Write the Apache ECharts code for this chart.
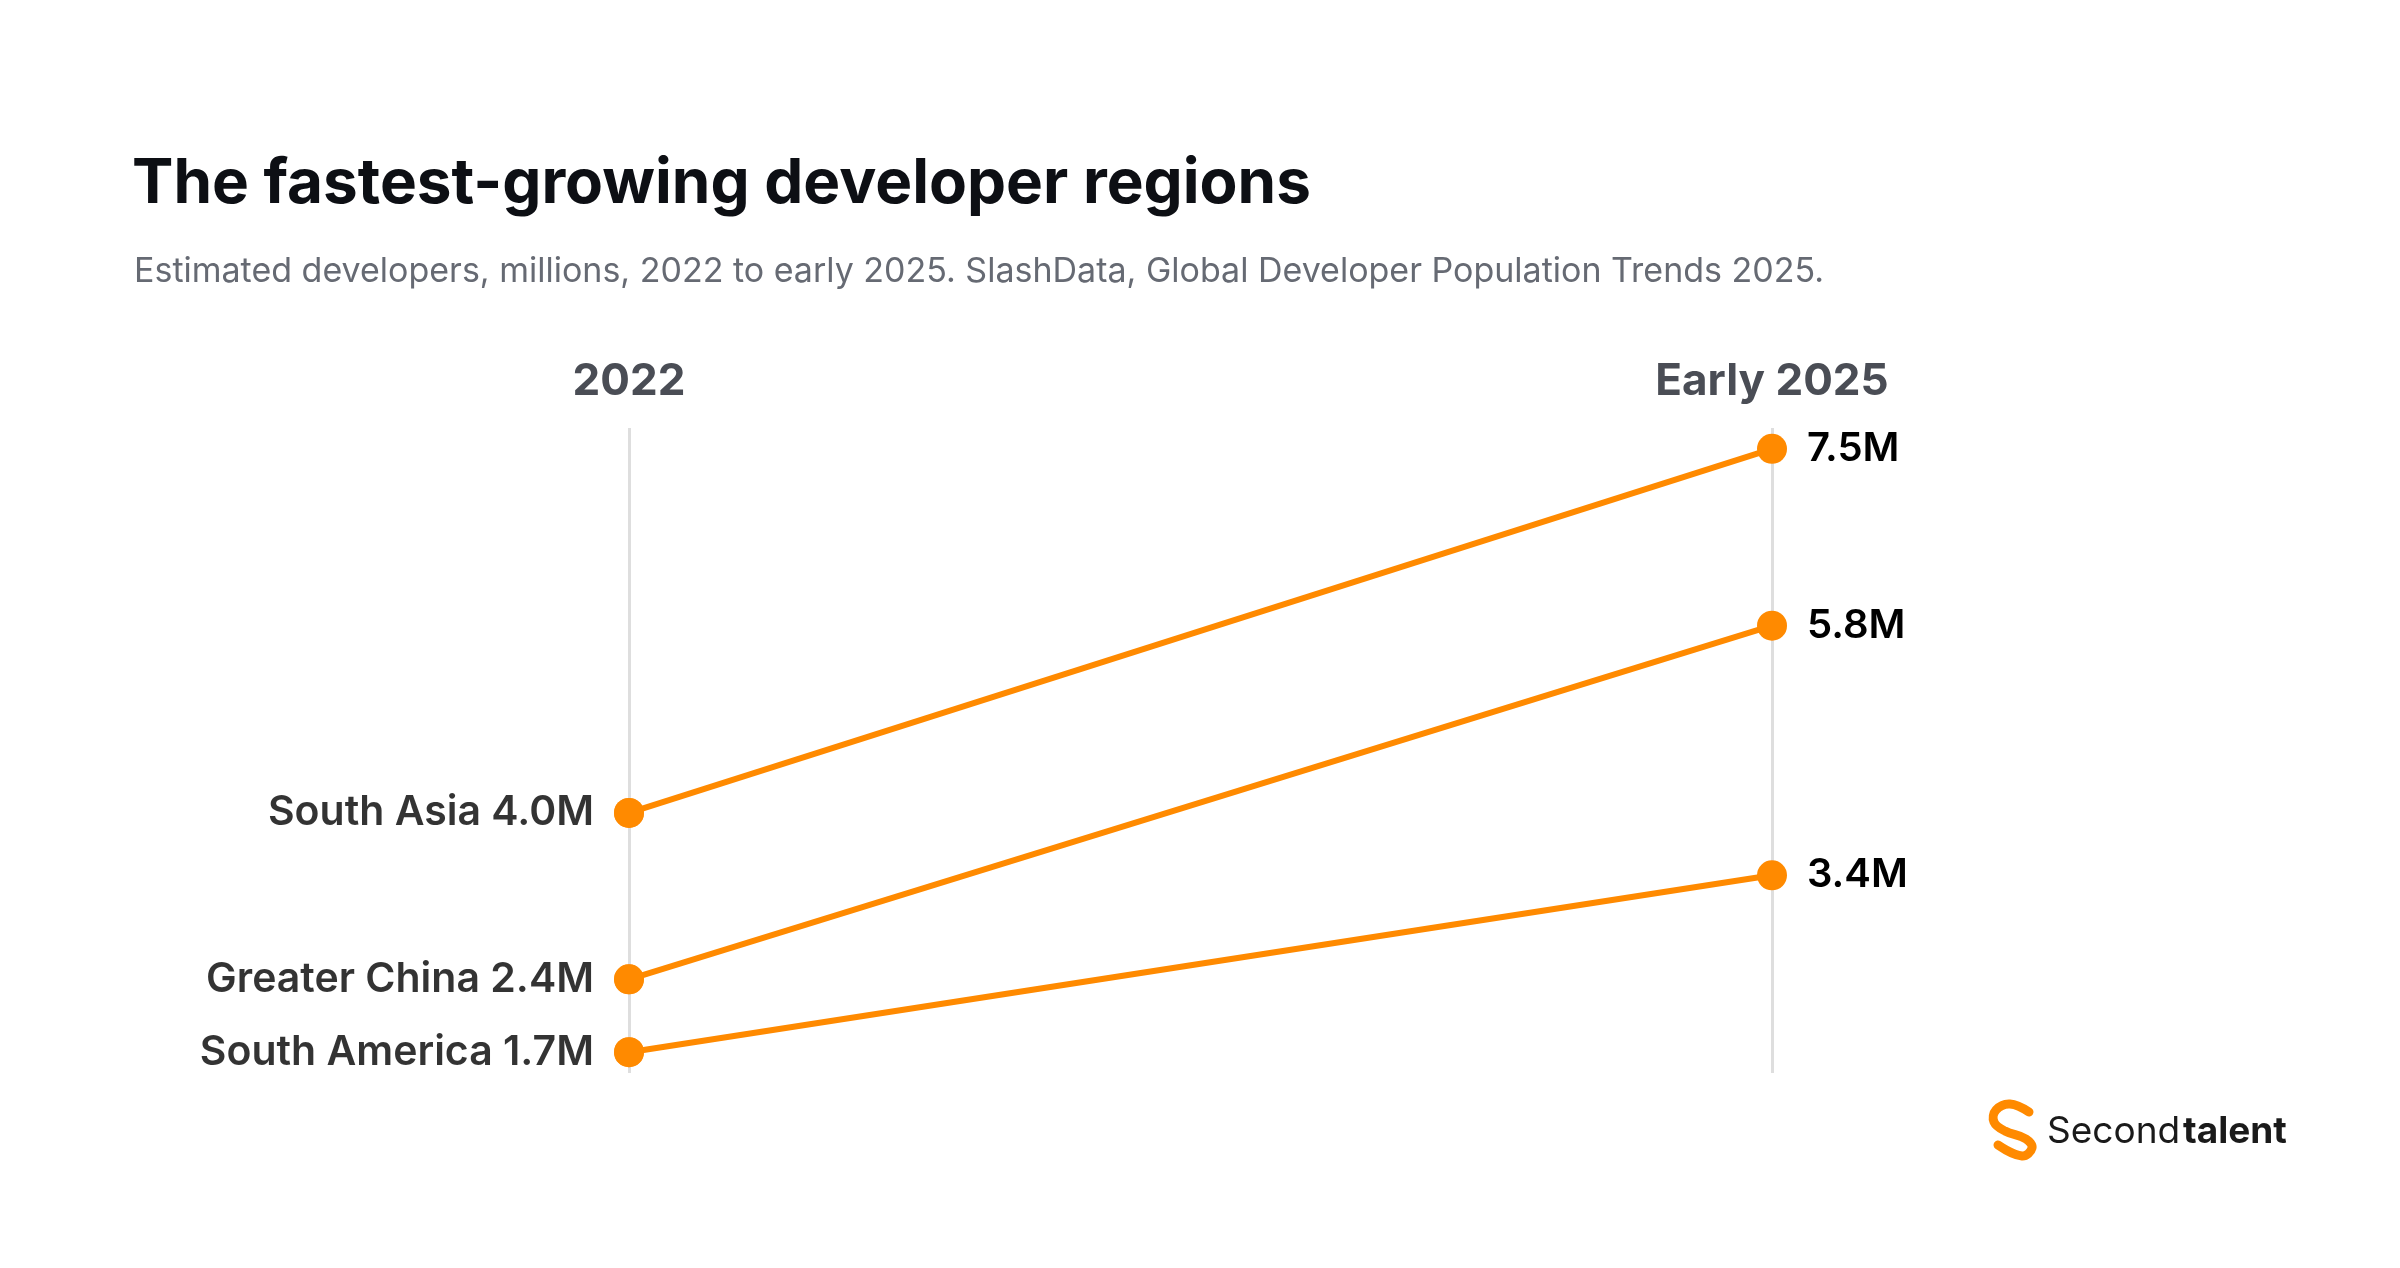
<!DOCTYPE html>
<html><head><meta charset="utf-8">
<script src="https://cdn.jsdelivr.net/npm/echarts@6/dist/echarts.min.js"></script>
<style>html,body{margin:0;padding:0;background:#fff}#c{width:2400px;height:1268px}</style>
</head><body><div id="c"></div>
<script>
const periods = ['2022', 'Early 2025'];
const regions = ['South Asia', 'Greater China', 'South America'];
const values2022 = [4.0, 2.4, 1.7];
const values2025 = [7.5, 5.8, 3.4];
const ORANGE = '#ff8a00';
const FONT = 'Inter, "Noto Sans", sans-serif';
const chart = echarts.init(document.getElementById('c'));
const series = regions.map((r, i) => ({
  type: 'line', name: r,
  data: [values2022[i], values2025[i]],
  symbol: 'circle', symbolSize: 30,
  lineStyle: { color: ORANGE, width: 6 },
  itemStyle: { color: ORANGE },
  animation: false,
  label: {
    show: true, fontFamily: FONT, fontSize: 40, fontWeight: 600, color: '#000000',
    position: 'right', distance: 20,
    formatter: p => p.dataIndex === 0 ? '' : Number(p.value).toFixed(1) + 'M'
  }
}));
regions.forEach((r, i) => {
  series.push({
    type: 'scatter', data: [[0, values2022[i]]], symbolSize: 30, silent: true, animation: false,
    itemStyle: { color: ORANGE },
    label: { show: true, position: 'left', distance: 20, fontFamily: FONT, fontSize: 41, fontWeight: 600, color: '#000000',
      formatter: p => r + ' ' + Number(p.value[1]).toFixed(1) + 'M' }
  });
});
chart.setOption({
  backgroundColor: '#fff',
  title: [
    { text: 'The fastest-growing developer regions', left: 127, top: 148,
      textStyle: { fontFamily: FONT, fontSize: 62, fontWeight: 700, color: '#0d0f14' } },
    { text: 'Estimated developers, millions, 2022 to early 2025. SlashData, Global Developer Population Trends 2025.', left: 129, top: 250,
      textStyle: { fontFamily: FONT, fontSize: 34, fontWeight: 400, color: '#666a73' } }
  ],
  grid: { left: 629, right: 628, top: 428, bottom: 195 },
  xAxis: {
    type: 'category', data: periods, boundaryGap: false, position: 'top',
    axisLine: { show: false }, axisTick: { show: false },
    axisLabel: { fontFamily: FONT, fontSize: 44, fontWeight: 700, color: '#4a4d55', margin: 24 },
    splitLine: { show: true, lineStyle: { color: '#dedede', width: 3 } }
  },
  yAxis: { type: 'value', min: 1.5, max: 7.7, show: false, splitLine: { show: false } },
  series: series,
  graphic: [
    { type: 'polyline', shape: { points: [[2029,1112],[2010,1104],[1996,1110],[1994,1122],[2005,1131],[2026,1139],[2032,1148],[2022,1156],[1998,1145]], smooth: 0.4 }, style: { stroke: ORANGE, lineWidth: 9, lineCap: 'round', lineJoin: 'round', fill: 'none' } },
    { type: 'text', left: 2047, top: 1113, style: { text: 'Second', fontFamily: FONT, fontSize: 37, fontWeight: 400, fill: '#1a1a1a' } },
    { type: 'text', left: 2183, top: 1113, style: { text: 'talent', fontFamily: FONT, fontSize: 37, fontWeight: 700, fill: '#1a1a1a' } }
  ]
});
</script></body></html>
